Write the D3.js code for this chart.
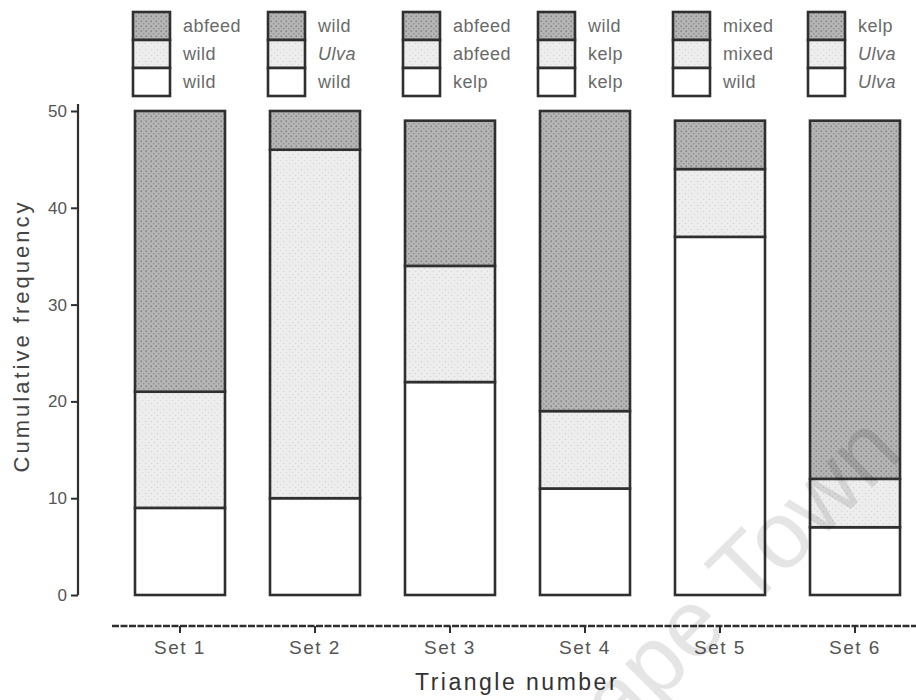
<!DOCTYPE html>
<html>
<head>
<meta charset="utf-8">
<script src="https://cdn.jsdelivr.net/npm/d3@7"></script>
<style>
  body { margin: 0; background: #fff; }
  svg { display: block; }
</style>
</head>
<body>
<svg id="chart" width="916" height="700"></svg>
<script>
// Categories along the x axis
const sets = ["Set 1", "Set 2", "Set 3", "Set 4", "Set 5", "Set 6"];

// Segment sizes per set, stacked bottom -> middle -> top
const bottomSeg = [9, 10, 22, 11, 37, 7];
const middleSeg = [12, 36, 12, 8, 7, 5];
const topSeg    = [29, 4, 15, 31, 5, 37];

// Legend text for each set (one block of three per set)
const topLabels    = ["abfeed", "wild", "abfeed", "wild", "mixed", "kelp"];
const middleLabels = ["wild", "Ulva", "abfeed", "kelp", "mixed", "Ulva"];
const bottomLabels = ["wild", "wild", "kelp", "kelp", "wild", "Ulva"];

const yTicks = [0, 10, 20, 30, 40, 50];

const svg = d3.select("#chart");
const W = 916, H = 700;
const font = "Liberation Sans, Arial, sans-serif";

// ---- fill patterns (stippled greys) ----
const defs = svg.append("defs");
function stipple(id, base, dot, r, step) {
  const p = defs.append("pattern")
    .attr("id", id).attr("patternUnits", "userSpaceOnUse")
    .attr("width", step).attr("height", step);
  p.append("rect").attr("width", step).attr("height", step).attr("fill", base);
  p.append("circle").attr("cx", step / 4).attr("cy", step / 4).attr("r", r).attr("fill", dot);
  p.append("circle").attr("cx", step * 3 / 4).attr("cy", step * 3 / 4).attr("r", r * 0.8).attr("fill", dot);
}
stipple("fillDark", "#b5b5b5", "#878787", 0.9, 5);
stipple("fillLight", "#ededed", "#d4d4d4", 0.7, 6);

const fills = { bottom: "#ffffff", middle: "url(#fillLight)", top: "url(#fillDark)" };

// ---- scales ----
const x = d3.scaleBand()
  .domain(sets)
  .range([112.5, 922.5])
  .paddingInner(1 / 3)
  .paddingOuter(1 / 6);

const y = d3.scaleLinear().domain([0, 50]).range([595, 111]);

// ---- stacked data ----
const rows = sets.map((s, i) => ({
  set: s, bottom: bottomSeg[i], middle: middleSeg[i], top: topSeg[i]
}));
const keys = ["bottom", "middle", "top"];
const stacked = d3.stack().keys(keys)(rows);

const ink = "#2f2f2f";

// ---- bars ----
const layers = svg.append("g").attr("class", "bars")
  .selectAll("g").data(stacked).join("g")
  .attr("fill", d => fills[d.key]);

layers.selectAll("rect")
  .data(d => d)
  .join("rect")
  .attr("x", d => x(d.data.set))
  .attr("width", x.bandwidth())
  .attr("y", d => y(d[1]))
  .attr("height", d => y(d[0]) - y(d[1]))
  .attr("stroke", ink)
  .attr("stroke-width", 2.6);

// ---- legend blocks above each bar ----
const legendTop = 12, rowH = 28;
const legendRows = [
  { key: "top", labels: topLabels },
  { key: "middle", labels: middleLabels },
  { key: "bottom", labels: bottomLabels }
];
const legend = svg.append("g").attr("class", "legend");
sets.forEach((s, i) => {
  const lx = x(s) - 2;
  const g = legend.append("g");
  legendRows.forEach((r, j) => {
    g.append("rect")
      .attr("x", lx).attr("y", legendTop + j * rowH)
      .attr("width", 37).attr("height", rowH)
      .attr("fill", fills[r.key])
      .attr("stroke", ink).attr("stroke-width", 2.6);
    g.append("text")
      .attr("x", lx + 50).attr("y", legendTop + j * rowH + rowH / 2)
      .attr("dy", "0.35em")
      .attr("font-family", font)
      .attr("font-size", 18)
      .attr("letter-spacing", "0.5px")
      .attr("fill", "#6a6a6a")
      .attr("font-style", r.labels[i] === "Ulva" ? "italic" : "normal")
      .text(r.labels[i]);
  });
});

// ---- y axis ----
const yAxis = svg.append("g")
  .attr("transform", "translate(78,0)")
  .call(d3.axisLeft(y).tickValues(yTicks).tickSize(7).tickSizeOuter(0).tickPadding(4));
yAxis.select(".domain").attr("d", `M0,${y(0)}V104`).attr("stroke", ink).attr("stroke-width", 2.2);
yAxis.selectAll(".tick line").attr("stroke", ink).attr("stroke-width", 2);
yAxis.selectAll(".tick text")
  .attr("font-family", font)
  .attr("font-size", 17).attr("fill", "#555");

// ---- x axis ----
const xAxisY = 626;
const xAxis = svg.append("g")
  .attr("transform", `translate(0,${xAxisY})`)
  .call(d3.axisBottom(x).tickSize(7).tickSizeOuter(0).tickPadding(8));
xAxis.select(".domain").attr("d", `M112,0H${W}`)
  .attr("stroke", ink).attr("stroke-width", 2.4).attr("stroke-dasharray", "7,1.5");
xAxis.selectAll(".tick line").attr("stroke", ink).attr("stroke-width", 2);
xAxis.selectAll(".tick text")
  .attr("font-family", font)
  .attr("font-size", 19).attr("letter-spacing", "1.5px").attr("fill", "#555");

// ---- axis titles ----
svg.append("text")
  .attr("x", 517).attr("y", 690)
  .attr("text-anchor", "middle")
  .attr("font-family", font)
  .attr("font-size", 23).attr("letter-spacing", "2.5px")
  .attr("fill", "#333")
  .text("Triangle number");

svg.append("text")
  .attr("transform", "translate(29,336) rotate(-90)")
  .attr("text-anchor", "middle")
  .attr("font-family", font)
  .attr("font-size", 22).attr("letter-spacing", "3px")
  .attr("fill", "#444")
  .text("Cumulative frequency");

// ---- faint watermark ----
svg.append("text")
  .attr("transform", "translate(905,455) rotate(-45)")
  .attr("text-anchor", "end")
  .attr("font-family", font)
  .attr("font-size", 95)
  .attr("fill", "#000").attr("fill-opacity", 0.1)
  .text("Cape Town");
</script>
</body>
</html>
